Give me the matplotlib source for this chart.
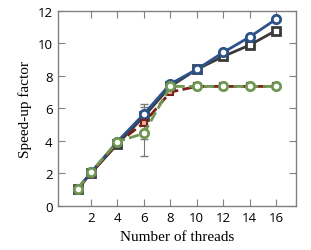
import matplotlib
matplotlib.use("Agg")
import matplotlib.pyplot as plt

# Data
threads = [1, 2, 4, 6, 8, 10, 12, 14, 16]
blue_circ = [1.05, 2.05, 3.95, 5.65, 7.5, 8.4, 9.45, 10.4, 11.5]
gray_sq = [1.05, 2.0, 3.8, 5.5, 7.35, 8.4, 9.2, 9.9, 10.8]
red_sq = [1.0, 2.0, 3.85, 5.1, 7.0, 7.35, 7.35, 7.35, 7.35]
green_circ = [1.05, 2.05, 3.95, 4.45, 7.35, 7.35, 7.35, 7.35, 7.35]

err_x = 6
blue_err = 0.6
red_err = 1.0
green_err = 1.4

fig = plt.figure(figsize=(3.11, 2.51), dpi=100)
ax = fig.add_axes([0.1865, 0.177, 0.765, 0.775])

ax.plot(threads, gray_sq, color="#3a3a3a", lw=2, marker="s", ms=6,
        mfc="white", mec="#3a3a3a", mew=2, zorder=3)
ax.plot(threads, blue_circ, color="#2d5289", lw=2, marker="o", ms=6,
        mfc="white", mec="#2d5289", mew=2, zorder=4)
ax.plot(threads, red_sq, color="#7a1f1a", lw=2, ls="--", marker="s", ms=5,
        mfc="#e8b0a0", mec="#7a1f1a", mew=1.5, zorder=5)
ax.plot(threads, green_circ, color="#6f9652", lw=2, ls="--", marker="o", ms=6,
        mfc="white", mec="#6f9652", mew=2, zorder=6)

i = threads.index(err_x)
ax.errorbar([err_x], [blue_circ[i]], yerr=blue_err, color="#777777", lw=0.8,
            capsize=3, fmt="none", zorder=2)
ax.errorbar([err_x], [red_sq[i]], yerr=red_err, color="#777777", lw=0.8,
            capsize=3, fmt="none", zorder=2)
ax.errorbar([err_x], [green_circ[i]], yerr=green_err, color="#777777", lw=0.8,
            ls="--", capsize=3, fmt="none", zorder=2)

ax.set_xlim(-0.5, 17.5)
ax.set_ylim(0, 12)
ax.set_xticks(range(2, 17, 2))
ax.set_yticks(range(0, 13, 2))

for s in ax.spines.values():
    s.set_color("#808080")
    s.set_linewidth(1.0)

ax.tick_params(direction="in", length=5, width=0.8, color="#808080",
               top=True, right=True, labelsize=9.5, pad=4)
for lab in ax.get_xticklabels() + ax.get_yticklabels():
    lab.set_family("Open Sans")

ax.set_xlabel("Number of threads", family="Liberation Serif", fontsize=11)
ax.set_ylabel("Speed-up factor", family="Liberation Serif", fontsize=11)

fig.savefig("out.png", dpi=100)
